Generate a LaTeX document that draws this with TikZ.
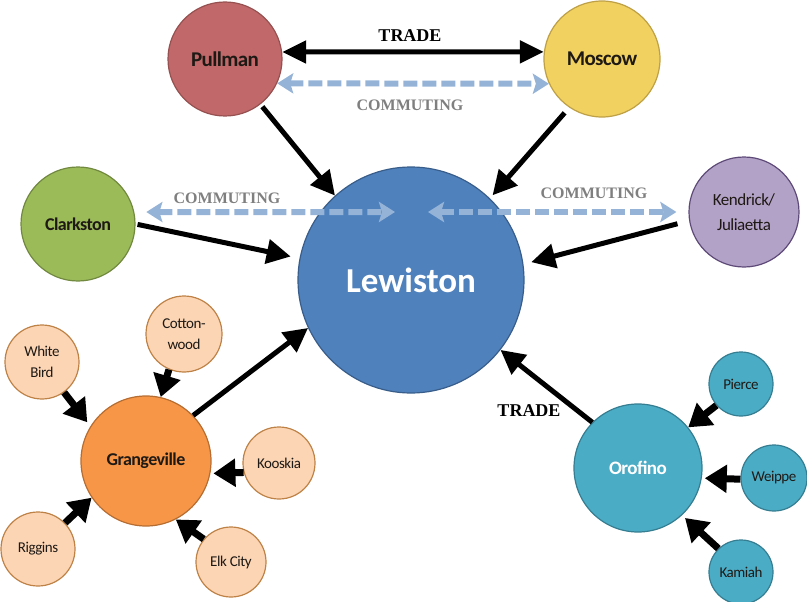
\documentclass[tikz,border=0pt]{standalone}
\usepackage{fontspec}
\setmainfont{Carlito}
\newfontfamily\tightfont{Carlito}[LetterSpace=-3]
\newfontfamily\labfont{Liberation Serif}
\usetikzlibrary{arrows.meta}
\definecolor{pullF}{RGB}{193,105,106}
\definecolor{pullD}{RGB}{150,80,80}
\definecolor{mosF}{RGB}{241,209,96}
\definecolor{mosD}{RGB}{190,160,70}
\definecolor{lewF}{RGB}{79,129,189}
\definecolor{lewD}{RGB}{56,93,138}
\definecolor{clkF}{RGB}{155,187,89}
\definecolor{clkD}{RGB}{113,137,63}
\definecolor{kenF}{RGB}{179,162,199}
\definecolor{kenD}{RGB}{94,74,120}
\definecolor{graF}{RGB}{247,150,70}
\definecolor{graD}{RGB}{182,109,49}
\definecolor{smF}{RGB}{252,213,181}
\definecolor{smD}{RGB}{190,130,70}
\definecolor{oroF}{RGB}{75,172,198}
\definecolor{oroD}{RGB}{53,125,145}
\definecolor{commC}{RGB}{149,179,215}
\definecolor{labG}{RGB}{127,127,127}
\definecolor{txtD}{RGB}{30,25,20}
\tikzset{
  city/.style={circle, draw, line width=1.2pt, inner sep=0pt, align=center, text=txtD},
  bigname/.style={font=\tightfont\bfseries\fontsize{21}{22}\selectfont},
  midname/.style={font=\tightfont\bfseries\fontsize{18}{20}\selectfont},
  smallname/.style={font=\tightfont\fontsize{15}{21}\selectfont},
  trade/.style={line width=5pt, -{Triangle[length=24pt,width=24pt]}},
  tradeboth/.style={line width=5pt, {Triangle[length=24pt,width=22pt]}-{Triangle[length=24pt,width=22pt]}},
  feeder/.style={line width=7pt, -{Triangle[length=22pt,width=27pt]}},
  commute/.style={draw=commC, line width=6pt, dash pattern=on 14pt off 5pt,
    {Stealth[length=16pt,width=20pt,inset=3pt,fill=commC]}-{Stealth[length=16pt,width=20pt,inset=3pt,fill=commC]}},
  tradelab/.style={font=\labfont\bfseries\fontsize{18}{20}\selectfont, text=black},
  commlab/.style={font=\labfont\bfseries\fontsize{16}{18}\selectfont, text=labG}
}
\begin{document}
\begin{tikzpicture}[x=1pt,y=-1pt]
\useasboundingbox (0,0) rectangle (807,602);

% main nodes
\node[city, fill=lewF, draw=lewD, minimum size=226pt, text=white,
      font=\bfseries\fontsize{35}{40}\selectfont] (lew) at (411,280) {Lewiston};
\node[city, bigname, fill=pullF, draw=pullD, minimum size=114pt] (pull) at (225,59) {Pullman};
\node[city, bigname, fill=mosF, draw=mosD, minimum size=116pt] (mos) at (602,59) {Moscow};
\node[city, midname, fill=clkF, draw=clkD, minimum size=114pt] (clk) at (78,224) {Clarkston};
\node[city, fill=kenF, draw=kenD, minimum size=110pt,
      font=\tightfont\fontsize{17}{25}\selectfont] (ken) at (744,212) {Kendrick/\\Juliaetta};
\node[city, midname, fill=graF, draw=graD, minimum size=130pt] (gra) at (146,461) {Grangeville};
\node[city, fill=oroF, draw=oroD, minimum size=128pt, text=white,
      font=\tightfont\bfseries\fontsize{19}{20}\selectfont] (oro) at (638,468) {Orofino};

% small nodes around Grangeville
\node[city, smallname, fill=smF, draw=smD, minimum size=74pt] (wb) at (42,362) {White\\Bird};
\node[city, smallname, fill=smF, draw=smD, minimum size=76pt] (cw) at (184,334) {Cotton-\\wood};
\node[city, smallname, fill=smF, draw=smD, minimum size=72pt] (ko) at (279,463) {Kooskia};
\node[city, smallname, fill=smF, draw=smD, minimum size=74pt] (ri) at (38,549) {Riggins};
\node[city, smallname, fill=smF, draw=smD, minimum size=70pt] (ek) at (231,562) {Elk City};

% small nodes around Orofino
\node[city, smallname, fill=oroF, draw=oroD, minimum size=64pt] (pi) at (741,384) {Pierce};
\node[city, smallname, fill=oroF, draw=oroD, minimum size=66pt] (we) at (774,478) {Weippe};
\node[city, smallname, fill=oroF, draw=oroD, minimum size=64pt] (ka) at (741,572) {Kamiah};

% trade arrows into Lewiston
\draw[trade, shorten <=3pt] (pull.-52) -- (lew.132);
\draw[trade, shorten <=7pt, shorten >=4pt] (mos.236) -- (lew.46);
\draw[trade, shorten <=2pt, shorten >=9pt] (clk.0) -- (lew.169);
\draw[trade, shorten <=12pt, shorten >=8pt] (ken.189) -- (lew.8);
\draw[trade] (gra.44) -- (lew.205);
\draw[trade] (oro.135) -- (lew.-38);

% Pullman <-> Moscow trade
\draw[tradeboth] (pull.7) -- (mos.173);

% commuting
\coordinate (cl) at (395,212);
\coordinate (cr) at (428,212);
\draw[commute] (pull.-25) -- (mos.-155);
\draw[commute, shorten <=12pt] (clk.12) -- (cl);
\draw[commute, shorten >=12pt] (cr) -- (ken.180);

% feeder arrows
\draw[feeder, shorten >=5pt] (wb.-54) -- (gra.148);
\draw[feeder] (cw.247) -- (gra.77);
\draw[feeder, shorten >=3pt] (ko.195) -- (gra.-11);
\draw[feeder] (ri.44) -- (gra.214);
\draw[feeder] (ek.140) -- (gra.-63);
\draw[feeder] (pi.221) -- (oro.39);
\draw[feeder, shorten >=3pt] (we.182) -- (oro.-9);
\draw[feeder, shorten >=4pt] (ka.134) -- (oro.-47);

% labels
\node[tradelab] (t1) at (410,36) {TRADE};
\node[tradelab] (t2) at (529,411) {TRADE};
\node[commlab] (c1) at (410,105) {COMMUTING};
\node[commlab] (c2) at (227,198) {COMMUTING};
\node[commlab] (c3) at (594,193) {COMMUTING};
\end{tikzpicture}
\end{document}
